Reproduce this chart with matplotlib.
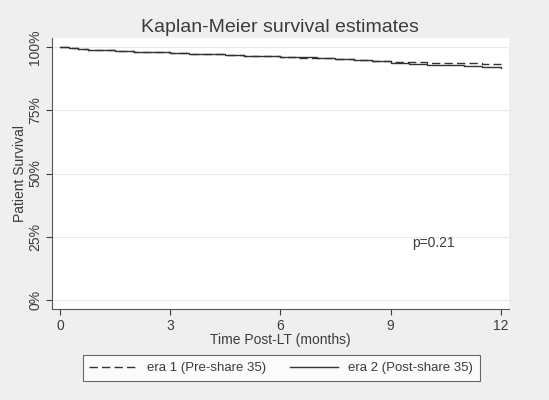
import matplotlib
matplotlib.use("Agg")
import matplotlib.pyplot as plt
from matplotlib.ticker import FuncFormatter

# Kaplan-Meier estimates (months, survival fraction)
times = [0, 0.25, 0.5, 0.75, 1, 1.5, 2, 2.5, 3, 3.5, 4, 4.5, 5, 5.5, 6,
         6.5, 7, 7.5, 8, 8.5, 9, 9.5, 10, 10.5, 11, 11.5, 12]
era1_surv = [1.0, 0.996, 0.993, 0.990, 0.988, 0.985, 0.982, 0.980, 0.977,
             0.974, 0.971, 0.969, 0.966, 0.964, 0.961, 0.958, 0.955, 0.951,
             0.948, 0.946, 0.943, 0.941, 0.939, 0.937, 0.936, 0.934, 0.932]
era2_surv = [1.0, 0.995, 0.992, 0.990, 0.988, 0.985, 0.982, 0.979, 0.976,
             0.974, 0.971, 0.968, 0.966, 0.963, 0.961, 0.959, 0.956, 0.952,
             0.949, 0.944, 0.938, 0.934, 0.931, 0.928, 0.925, 0.922, 0.919]
x_ticks = [0, 3, 6, 9, 12]
y_ticks = [0, 0.25, 0.5, 0.75, 1.0]

plt.rcParams["font.family"] = ["Liberation Sans", "DejaVu Sans"]
bg = "#efefef"
ink = "#3c3c3c"

fig = plt.figure(figsize=(5.49, 4.0), dpi=100, facecolor=bg)
ax = fig.add_axes([0.0947, 0.2275, 0.832, 0.6775])
ax.set_facecolor("white")

ax.plot(times, era1_surv, drawstyle="steps-post", color="#333333",
        lw=1.0, ls=(0, (6, 3)), label="era 1 (Pre-share 35)")
ax.plot(times, era2_surv, drawstyle="steps-post", color="#333333",
        lw=1.0, label="era 2 (Post-share 35)")

ax.set_xlim(-0.22, 12.22)
ax.set_ylim(-0.036, 1.036)
ax.set_xticks(x_ticks)
ax.set_yticks(y_ticks)
ax.yaxis.set_major_formatter(FuncFormatter(lambda v, p: f"{v * 100:.0f}%"))
for lab in ax.get_yticklabels():
    lab.set_rotation(90)
    lab.set_va("center")
ax.tick_params(axis="both", colors=ink, labelsize=10, length=4, width=0.8,
               direction="out", pad=3)
ax.grid(axis="y", color="#eaeaea", lw=0.8)
ax.set_axisbelow(True)

for side in ["top", "right"]:
    ax.spines[side].set_visible(False)
for side in ["left", "bottom"]:
    ax.spines[side].set_color("#555555")
    ax.spines[side].set_linewidth(0.8)

ax.set_title("Kaplan-Meier survival estimates", fontsize=14, color=ink, pad=4)
ax.set_xlabel("Time Post-LT (months)", fontsize=10, color=ink, labelpad=0)
ax.set_ylabel("Patient Survival", fontsize=10, color=ink, labelpad=1)
ax.text(9.6, 0.225, "p=0.21", fontsize=10, color=ink, va="center")

leg = fig.legend(loc="center", bbox_to_anchor=(0.512, 0.08), ncol=2,
                 frameon=True, fancybox=False, fontsize=9.5, handlelength=3.6,
                 columnspacing=1.8, borderpad=0.5, handletextpad=0.8)
leg.get_frame().set_edgecolor("#444444")
leg.get_frame().set_linewidth(0.8)
for t in leg.get_texts():
    t.set_color(ink)

fig.savefig("out.png", dpi=100, facecolor=bg)
